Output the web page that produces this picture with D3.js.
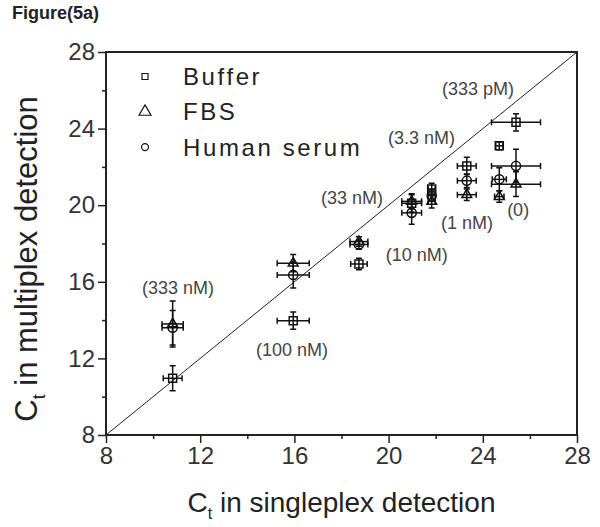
<!DOCTYPE html>
<html>
<head>
<meta charset="utf-8">
<script src="https://cdn.jsdelivr.net/npm/d3@7"></script>
<style>
    body { margin: 0; background: #fff; }
    text { font-family: "Liberation Sans", Arial, sans-serif; }
</style>
</head>
<body>
<div id="chart"></div>
<script>

// ---- data ----
var seriesNames = ["Buffer", "FBS", "Human serum"];

// x = Ct singleplex, y = Ct multiplex, xe / ye = error bars
var bufferX  = [10.83, 15.95, 18.74, 20.98, 21.83, 23.32, 24.70, 25.41];
var bufferY  = [10.96, 13.97, 16.93, 20.10, 20.85, 22.05, 23.10, 24.33];
var bufferXe = [0.40, 0.68, 0.35, 0.42, 0.15, 0.40, 0.15, 1.04];
var bufferYe = [0.65, 0.45, 0.30, 0.45, 0.30, 0.45, 0.20, 0.45];

var fbsX  = [10.83, 15.95, 18.74, 20.98, 21.83, 23.32, 24.70, 25.41];
var fbsY  = [13.80, 16.97, 18.10, 20.20, 20.20, 20.55, 20.45, 21.10];
var fbsXe = [0.45, 0.68, 0.38, 0.42, 0.15, 0.40, 0.20, 1.04];
var fbsYe = [1.20, 0.45, 0.25, 0.40, 0.35, 0.30, 0.30, 0.65];

var serumX  = [10.83, 15.95, 18.74, 20.98, 21.83, 23.32, 24.70, 25.41];
var serumY  = [13.60, 16.36, 17.95, 19.60, 20.50, 21.28, 21.35, 22.05];
var serumXe = [0.45, 0.68, 0.38, 0.42, 0.15, 0.40, 0.30, 1.04];
var serumYe = [0.90, 0.68, 0.25, 0.60, 0.30, 0.35, 0.60, 0.87];

// concentration labels (data coordinates of label centre)
var concLabels = ["(333 pM)", "(3.3 nM)", "(33 nM)", "(10 nM)", "(1 nM)", "(0)", "(333 nM)", "(100 nM)"];
var concX = [23.80, 21.40, 18.45, 21.20, 23.33, 25.50, 11.06, 15.90];
var concY = [26.10, 23.50, 20.40, 17.40, 19.07, 19.75, 15.68, 12.44];

var xTicks = [8, 12, 16, 20, 24, 28];
var yTicks = [8, 12, 16, 20, 24, 28];
var domainMin = 8, domainMax = 28;

// ---- layout ----
var width = 600, height = 527;
var marginLeft = 106, marginRight = 577, marginTop = 52, marginBottom = 435;

var svg = d3.select("#chart")
    .append("svg")
    .attr("width", width)
    .attr("height", height);

svg.append("rect")
    .attr("width", width)
    .attr("height", height)
    .attr("fill", "#fff");

var x = d3.scaleLinear().domain([domainMin, domainMax]).range([marginLeft, marginRight]);
var y = d3.scaleLinear().domain([domainMin, domainMax]).range([marginBottom, marginTop]);

// title
svg.append("text")
    .attr("x", 12)
    .attr("y", 19)
    .attr("font-size", "18px")
    .attr("font-weight", "bold")
    .attr("fill", "#222")
    .text("Figure(5a)");

// axes (major labelled, minor ticks in between)
var minor = d3.range(10, 28, 4);

svg.append("g")
    .attr("transform", "translate(0," + marginBottom + ")")
    .call(d3.axisBottom(x).tickValues(xTicks).tickSize(8).tickPadding(4).tickFormat(d3.format("d")));
svg.append("g")
    .attr("transform", "translate(0," + marginBottom + ")")
    .call(d3.axisBottom(x).tickValues(minor).tickSize(4).tickFormat(""));

svg.append("g")
    .attr("transform", "translate(" + marginLeft + ",0)")
    .call(d3.axisLeft(y).tickValues(yTicks).tickSize(8).tickPadding(3).tickFormat(d3.format("d")));
svg.append("g")
    .attr("transform", "translate(" + marginLeft + ",0)")
    .call(d3.axisLeft(y).tickValues(minor).tickSize(4).tickFormat(""));

svg.selectAll(".domain").remove();
svg.selectAll(".tick line").attr("stroke", "#222").attr("stroke-width", 1.5);
svg.selectAll(".tick text")
    .attr("font-size", "24px")
    .attr("fill", "#333")
    .style("font-family", "'Liberation Sans', Arial, sans-serif");

// frame
svg.append("rect")
    .attr("x", marginLeft)
    .attr("y", marginTop)
    .attr("width", marginRight - marginLeft)
    .attr("height", marginBottom - marginTop)
    .attr("fill", "none")
    .attr("stroke", "#222")
    .attr("stroke-width", 2);

// y = x diagonal
svg.append("line")
    .attr("x1", x(domainMin)).attr("y1", y(domainMin))
    .attr("x2", x(domainMax)).attr("y2", y(domainMax))
    .attr("stroke", "#222")
    .attr("stroke-width", 1);

// axis titles
var xTitle = svg.append("text")
    .attr("x", (marginLeft + marginRight) / 2)
    .attr("y", 512)
    .attr("text-anchor", "middle")
    .attr("font-size", "28px")
    .attr("fill", "#222");
xTitle.append("tspan").text("C");
xTitle.append("tspan").attr("font-size", "16px").attr("dy", 7).text("t");
xTitle.append("tspan").attr("dy", -7).text(" in singleplex detection");

var yTitle = svg.append("text")
    .attr("transform", "translate(37," + 259 + ") rotate(-90)")
    .attr("text-anchor", "middle")
    .attr("font-size", "31px")
    .attr("fill", "#222");
yTitle.append("tspan").text("C");
yTitle.append("tspan").attr("font-size", "18px").attr("dy", 8).text("t");
yTitle.append("tspan").attr("dy", -8).text(" in multiplex detection");

// concentration labels
svg.selectAll("text.conc")
    .data(concLabels)
    .enter()
    .append("text")
    .attr("class", "conc")
    .attr("x", function(d, i) { return x(concX[i]); })
    .attr("y", function(d, i) { return y(concY[i]); })
    .attr("dy", "0.35em")
    .attr("text-anchor", "middle")
    .attr("font-size", "18px")
    .attr("fill", "#444")
    .text(function(d) { return d; });

// ---- points with error bars ----
var series = [
    { name: seriesNames[0], shape: d3.symbolSquare,   size: 64, legendSize: 36, xs: bufferX, ys: bufferY, xe: bufferXe, ye: bufferYe },
    { name: seriesNames[1], shape: d3.symbolTriangle, size: 42, legendSize: 62, xs: fbsX,    ys: fbsY,    xe: fbsXe,    ye: fbsYe },
    { name: seriesNames[2], shape: d3.symbolCircle,   size: 66, legendSize: 38, xs: serumX,  ys: serumY,  xe: serumXe,  ye: serumYe }
];
var cap = 3;

series.forEach(function(s) {
    var pts = s.xs.map(function(v, i) {
        return { x: v, y: s.ys[i], xe: s.xe[i], ye: s.ye[i] };
    });
    var g = svg.append("g")
        .attr("stroke", "#111")
        .attr("stroke-width", 1.5)
        .attr("fill", "none");

    var eb = g.selectAll("g.err").data(pts).enter().append("g").attr("class", "err");
    // horizontal bar + caps
    eb.append("line")
        .attr("x1", function(d) { return x(d.x - d.xe); })
        .attr("x2", function(d) { return x(d.x + d.xe); })
        .attr("y1", function(d) { return y(d.y); })
        .attr("y2", function(d) { return y(d.y); });
    eb.append("path")
        .attr("d", function(d) {
            var a = x(d.x - d.xe), b = x(d.x + d.xe), c = y(d.y);
            return "M" + a + "," + (c - cap) + "V" + (c + cap) + "M" + b + "," + (c - cap) + "V" + (c + cap);
        });
    // vertical bar + caps
    eb.append("line")
        .attr("x1", function(d) { return x(d.x); })
        .attr("x2", function(d) { return x(d.x); })
        .attr("y1", function(d) { return y(d.y - d.ye); })
        .attr("y2", function(d) { return y(d.y + d.ye); });
    eb.append("path")
        .attr("d", function(d) {
            var a = y(d.y - d.ye), b = y(d.y + d.ye), c = x(d.x);
            return "M" + (c - cap) + "," + a + "H" + (c + cap) + "M" + (c - cap) + "," + b + "H" + (c + cap);
        });

    g.selectAll("path.mark").data(pts).enter().append("path")
        .attr("class", "mark")
        .attr("d", d3.symbol().type(s.shape).size(s.size))
        .attr("transform", function(d) { return "translate(" + x(d.x) + "," + y(d.y) + ")"; });
});

// legend
var legend = svg.append("g");
series.forEach(function(s, i) {
    var ly = 76.5 + i * 35.3;
    legend.append("path")
        .attr("d", d3.symbol().type(s.shape).size(s.legendSize))
        .attr("transform", "translate(145," + ly + ")")
        .attr("fill", "none")
        .attr("stroke", "#111")
        .attr("stroke-width", 1.2);
    legend.append("text")
        .attr("x", 183)
        .attr("y", ly)
        .attr("dy", "0.36em")
        .attr("font-size", "24px")
        .attr("letter-spacing", "2.6px")
        .attr("fill", "#222")
        .text(s.name);
});

</script>
</body>
</html>
